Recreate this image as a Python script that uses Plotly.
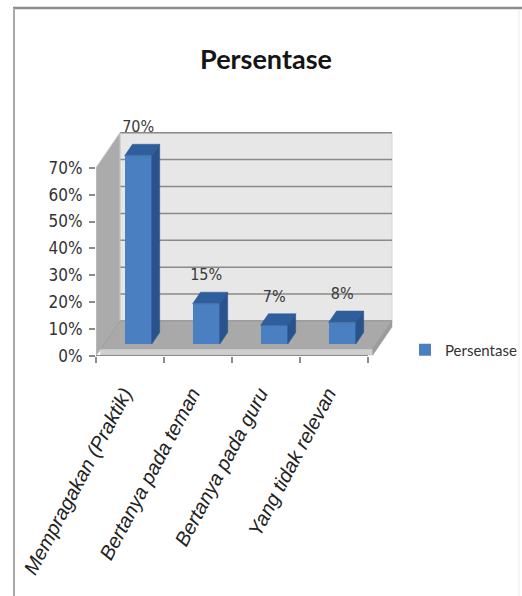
import plotly.graph_objects as go

# ---------------- data ----------------
categories = ["Mempragakan (Praktik)", "Bertanya pada teman", "Bertanya pada guru", "Yang tidak relevan"]
values = [0.70, 0.15, 0.07, 0.08]
value_labels = ["70%", "15%", "7%", "8%"]
y_tick_values = [0.0, 0.1, 0.2, 0.3, 0.4, 0.5, 0.6, 0.7]
series_name = "Persentase"
chart_title = "Persentase"

# ---------------- design constants ----------------
W, H = 522, 596
ML, MT = 96, 108          # left / top margin (px)
PX_CAT, PX_VAL = 68, 269  # px per category, px per 1.0 value
Y0 = 356                  # pixel row of value 0 on the front plane
PLOT_W = 302
MR = W - ML - PLOT_W
MB = H - Y0
PLOT_H = Y0 - MT
x_range = [-0.5, -0.5 + PLOT_W / PX_CAT]
y_range = [0, PLOT_H / PX_VAL]

DDX = 24 / PX_CAT        # full depth offset (x, in category units)
DDY = 35 / PX_VAL        # full depth offset (y, in value units)
D_FLOOR = 0.2            # floor front depth
SLAB = 6 / PX_VAL        # floor thickness
D0, D1 = 0.34, 0.67      # bar front / back depth
BW = 0.2                 # bar half width
LABEL_OFF = 22 / PX_VAL

COND = "DejaVu Sans Condensed, DejaVu Sans, sans-serif"
LATO = "Lato, DejaVu Sans Condensed, sans-serif"
FRONT, TOP, SIDE = "#4a7fc1", "#2f5e9c", "#29538c"

n = len(categories)
ymax = max(y_tick_values)


def path(pts):
    return "M " + " L ".join(f"{x},{y}" for x, y in pts) + " Z"


def px_to_paper_x(px):
    return (px - ML) / PLOT_W


def px_to_paper_y(py):
    return (Y0 - py) / PLOT_H


xl, xr = -0.5, n - 0.5
shapes = []
# back wall
shapes.append(dict(type="path", xref="x", yref="y", layer="below",
                   path=path([(xl + DDX, DDY), (xr + DDX, DDY), (xr + DDX, ymax + DDY), (xl + DDX, ymax + DDY)]),
                   fillcolor="#e7e7e7", line=dict(color="#d4d4d4", width=1)))
# gridlines on back wall
for t in y_tick_values:
    shapes.append(dict(type="line", xref="x", yref="y", layer="below",
                       x0=xl + DDX, x1=xr + DDX, y0=t + DDY, y1=t + DDY,
                       line=dict(color="#8a8a8a", width=1.5)))
# left wall
shapes.append(dict(type="path", xref="x", yref="y", layer="below",
                   path=path([(xl, 0), (xl, ymax), (xl + DDX, ymax + DDY), (xl + DDX, DDY)]),
                   fillcolor="#ababab", line=dict(color="#c8c8c8", width=1)))
# floor top surface
shapes.append(dict(type="path", xref="x", yref="y", layer="below",
                   path=path([(xl + D_FLOOR * DDX, D_FLOOR * DDY), (xr + D_FLOOR * DDX, D_FLOOR * DDY),
                              (xr + DDX, DDY), (xl + DDX, DDY)]),
                   fillcolor="#a9a9a9", line=dict(color="#9a9a9a", width=1)))
# floor slab front face
shapes.append(dict(type="path", xref="x", yref="y", layer="below",
                   path=path([(xl + D_FLOOR * DDX, D_FLOOR * DDY - SLAB), (xr + D_FLOOR * DDX, D_FLOOR * DDY - SLAB),
                              (xr + D_FLOOR * DDX, D_FLOOR * DDY), (xl + D_FLOOR * DDX, D_FLOOR * DDY)]),
                   fillcolor="#cfcfcf", line=dict(color="#b5b5b5", width=0.5)))
# floor slab right face
shapes.append(dict(type="path", xref="x", yref="y", layer="below",
                   path=path([(xr + D_FLOOR * DDX, D_FLOOR * DDY - SLAB), (xr + DDX, DDY - SLAB),
                              (xr + DDX, DDY), (xr + D_FLOOR * DDX, D_FLOOR * DDY)]),
                   fillcolor="#9c9c9c", line=dict(color="#9c9c9c", width=0.5)))
# front axis line
shapes.append(dict(type="line", xref="x", yref="y", layer="below",
                   x0=xl, x1=xr, y0=0, y1=0, line=dict(color="#8c8c8c", width=2)))
# outer frame of the picture
shapes.append(dict(type="line", xref="paper", yref="paper", layer="above",
                   x0=px_to_paper_x(13), x1=px_to_paper_x(522), y0=px_to_paper_y(8), y1=px_to_paper_y(8),
                   line=dict(color="#8c8c8c", width=2.5)))
shapes.append(dict(type="line", xref="paper", yref="paper", layer="above",
                   x0=px_to_paper_x(14), x1=px_to_paper_x(14), y0=px_to_paper_y(8), y1=px_to_paper_y(596),
                   line=dict(color="#a8a8a8", width=2)))
shapes.append(dict(type="line", xref="paper", yref="paper", layer="above",
                   x0=px_to_paper_x(519), x1=px_to_paper_x(519), y0=px_to_paper_y(10), y1=px_to_paper_y(596),
                   line=dict(color="#ececec", width=1)))

fig = go.Figure()

# front faces of bars
bar_x = [i + D0 * DDX for i in range(n)]
fig.add_trace(go.Bar(x=bar_x, y=values, base=D0 * DDY, width=2 * BW, name=series_name,
                     marker=dict(color=FRONT, line=dict(width=0)), hoverinfo="skip", showlegend=True))

# top faces and side faces
tx, ty, sx, sy = [], [], [], []
for i, v in enumerate(values):
    a, b = i - BW, i + BW
    tx += [a + D0 * DDX, b + D0 * DDX, b + D1 * DDX, a + D1 * DDX, a + D0 * DDX, None]
    ty += [v + D0 * DDY, v + D0 * DDY, v + D1 * DDY, v + D1 * DDY, v + D0 * DDY, None]
    sx += [b + D0 * DDX, b + D1 * DDX, b + D1 * DDX, b + D0 * DDX, b + D0 * DDX, None]
    sy += [D0 * DDY, D1 * DDY, v + D1 * DDY, v + D0 * DDY, D0 * DDY, None]
fig.add_trace(go.Scatter(x=tx, y=ty, mode="lines", fill="toself", fillcolor=TOP,
                         line=dict(color=TOP, width=0.5), hoverinfo="skip", showlegend=False))
fig.add_trace(go.Scatter(x=sx, y=sy, mode="lines", fill="toself", fillcolor=SIDE,
                         line=dict(color=SIDE, width=0.5), hoverinfo="skip", showlegend=False))

# value labels
fig.add_trace(go.Scatter(x=bar_x, y=[v + 0.5 * (D0 + D1) * DDY + LABEL_OFF for v in values],
                         mode="text", text=value_labels, textposition="middle center",
                         textfont=dict(family=COND, size=16, color="#3a3a3a"),
                         cliponaxis=False, hoverinfo="skip", showlegend=False))

fig.update_layout(
    width=W, height=H,
    margin=dict(l=ML, r=MR, t=MT, b=MB, pad=0, autoexpand=False),
    paper_bgcolor="white", plot_bgcolor="white",
    shapes=shapes,
    title=dict(text=chart_title, x=266 / W, y=1 - 60 / H, xref="container", yref="container",
               xanchor="center", yanchor="middle",
               font=dict(family=LATO, size=27, color="#151515", weight="bold")),
    legend=dict(x=405 / W, y=1 - 350 / H, xref="container", yref="container",
                xanchor="left", yanchor="middle",
                font=dict(family=LATO, size=15, color="#333333"), bgcolor="rgba(0,0,0,0)"),
    xaxis=dict(range=x_range, showgrid=False, zeroline=False, showline=False,
               tickmode="array", tickvals=list(range(n)), ticktext=categories, ticks="",
               tickangle=-62, ticklabelstandoff=21, ticklabelshift=-6, automargin=False,
               tickfont=dict(family="Liberation Sans, Arial, sans-serif", size=20, color="#222222", style="italic"),
               minor=dict(tickmode="array", tickvals=[i - 0.5 for i in range(n + 1)], ticks="outside",
                          ticklen=6, tickcolor="#8c8c8c", tickwidth=1.5, showgrid=False)),
    yaxis=dict(range=y_range, showgrid=False, zeroline=False, showline=False, automargin=False,
               tickmode="array", tickvals=y_tick_values, tickformat=".0%",
               ticks="outside", ticklen=6, tickcolor="#8c8c8c", tickwidth=1.5, ticklabelstandoff=3,
               tickfont=dict(family=COND, size=17, color="#333333")),
    bargap=0,
)

fig.write_html("out.html")
